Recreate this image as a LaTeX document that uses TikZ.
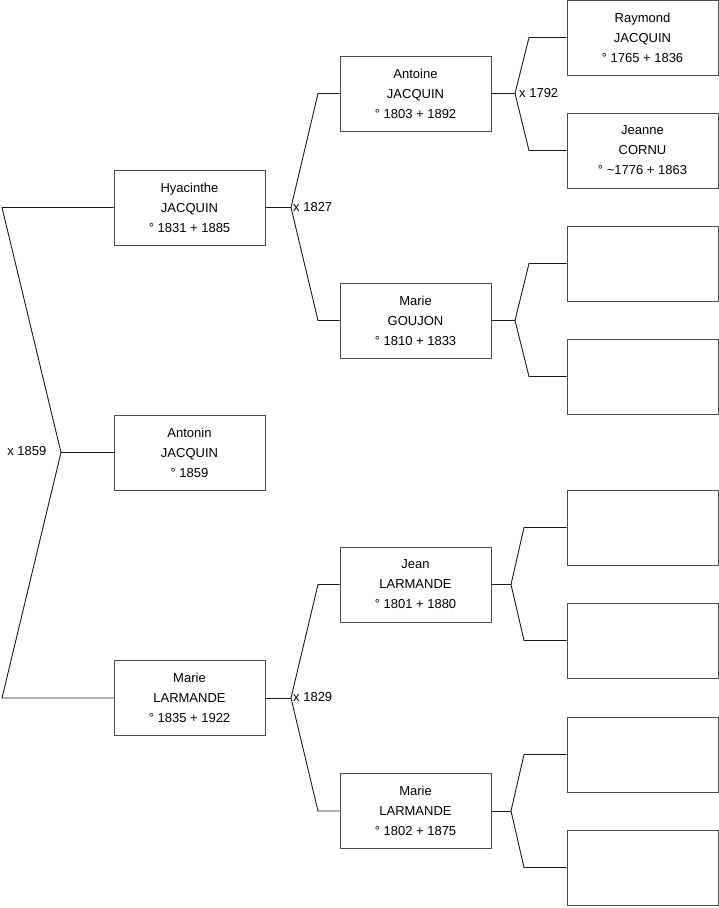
\documentclass[tikz,border=0pt]{standalone}
\usepackage{fontspec}
\setmainfont{Liberation Sans}
\begin{document}
\begin{tikzpicture}[x=1pt,y=-1pt,
  person/.style={draw=black!70, line width=1pt, rectangle, minimum width=151pt, minimum height=75pt,
    inner sep=0pt, align=center, font=\fontsize{13pt}{20pt}\selectfont},
  link/.style={draw=black!90, line width=0.9pt},
  marr/.style={inner sep=0pt, font=\fontsize{13pt}{15pt}\selectfont}]
\useasboundingbox (0,0) rectangle (719,908);
% level 1
\node[person] (anto) at (189.5,452.5) {Antonin\\JACQUIN\\° 1859};
\node[person] (hya) at (189.5,207.5) {Hyacinthe\\JACQUIN\\° 1831 + 1885};
\node[person] (mla) at (189.5,698) {Marie\\LARMANDE\\° 1835 + 1922};
% level 2
\node[person] (ant) at (415.5,93.5) {Antoine\\JACQUIN\\° 1803 + 1892};
\node[person] (gou) at (415.5,320.5) {Marie\\GOUJON\\° 1810 + 1833};
\node[person] (jea) at (415.5,584.5) {Jean\\LARMANDE\\° 1801 + 1880};
\node[person] (mlb) at (415.5,811) {Marie\\LARMANDE\\° 1802 + 1875};
% level 3
\node[person] (ray) at (642.5,37.5) {Raymond\\JACQUIN\\° 1765 + 1836};
\node[person] (jne) at (642.5,150.5) {Jeanne\\CORNU\\° \textasciitilde1776 + 1863};
\node[person] (e3) at (642.5,263.5) {};
\node[person] (e4) at (642.5,376.5) {};
\node[person] (e5) at (642.5,527.5) {};
\node[person] (e6) at (642.5,640.5) {};
\node[person] (e7) at (642.5,754.5) {};
\node[person] (e8) at (642.5,867.5) {};
% junctions
\coordinate (j0) at (61,452.5);
\coordinate (k0a) at (2,207.5);
\coordinate (k0b) at (2,698);
\coordinate (j1) at (291,207.5);
\coordinate (k1a) at (318,93.5);
\coordinate (k1b) at (318,320.5);
\coordinate (j2) at (291,698);
\coordinate (k2a) at (318,584.5);
\coordinate (k2b) at (318,811);
\coordinate (j3) at (515,93.5);
\coordinate (k3a) at (529,37.5);
\coordinate (k3b) at (529,150.5);
\coordinate (j4) at (515,320.5);
\coordinate (k4a) at (529,263.5);
\coordinate (k4b) at (529,376.5);
\coordinate (j5) at (511,584.5);
\coordinate (k5a) at (524,527.5);
\coordinate (k5b) at (524,640.5);
\coordinate (j6) at (511,811);
\coordinate (k6a) at (524,754.5);
\coordinate (k6b) at (524,867.5);
% connectors
\draw[link] (anto.west) -- (j0);
\draw[link] (hya.west) -- (k0a) -- (j0) -- (k0b) -- (mla.west);
\draw[link] (hya.east) -- (j1);
\draw[link] (ant.west) -- (k1a) -- (j1) -- (k1b) -- (gou.west);
\draw[link] (mla.east) -- (j2);
\draw[link] (jea.west) -- (k2a) -- (j2) -- (k2b) -- (mlb.west);
\draw[link] (ant.east) -- (j3);
\draw[link] (ray.west) -- (k3a) -- (j3) -- (k3b) -- (jne.west);
\draw[link] (gou.east) -- (j4);
\draw[link] (e3.west) -- (k4a) -- (j4) -- (k4b) -- (e4.west);
\draw[link] (jea.east) -- (j5);
\draw[link] (e5.west) -- (k5a) -- (j5) -- (k5b) -- (e6.west);
\draw[link] (mlb.east) -- (j6);
\draw[link] (e7.west) -- (k6a) -- (j6) -- (k6b) -- (e8.west);
% marriage labels
\node[marr, anchor=east] (m0) at (46.5,451.5) {x 1859};
\node[marr, anchor=west] (m1) at (293,207) {x 1827};
\node[marr, anchor=west] (m2) at (293,697.5) {x 1829};
\node[marr, anchor=west] (m3) at (519,93) {x 1792};
\end{tikzpicture}
\end{document}
